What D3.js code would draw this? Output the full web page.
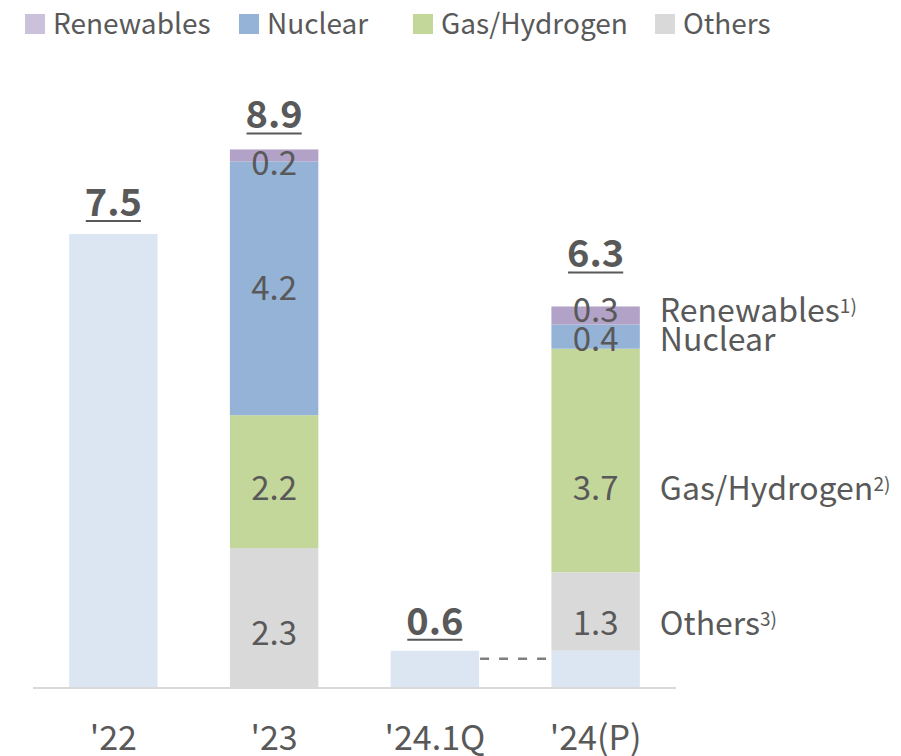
<!DOCTYPE html>
<html>
<head>
<meta charset="utf-8">
<script src="https://cdn.jsdelivr.net/npm/d3@7/dist/d3.min.js"></script>
<style>
  html, body { margin: 0; padding: 0; background: #fff; }
  svg { display: block; }
  text { font-family: "Noto Sans CJK KR", "Noto Sans", sans-serif; fill: #595959; }
</style>
</head>
<body>
<svg id="chart" width="901" height="756"></svg>
<script>
// ---- data ----
const categories = ["'22", "'23", "'24.1Q", "'24(P)"];
const baseValues = [7.5, 0, 0.6, 0.6];
const others = [0, 2.3, 0, 1.3];
const gasHydrogen = [0, 2.2, 0, 3.7];
const nuclear = [0, 4.2, 0, 0.4];
const renewables = [0, 0.2, 0, 0.3];
const totals = [7.5, 8.9, 0.6, 6.3];
const seriesNames = ["Base", "Others", "Gas/Hydrogen", "Nuclear", "Renewables"];
const legendNames = ["Renewables", "Nuclear", "Gas/Hydrogen", "Others"];
const sideLabels = [
  { series: "Renewables", text: "Renewables", sup: "1)" },
  { series: "Nuclear", text: "Nuclear", sup: "" },
  { series: "Gas/Hydrogen", text: "Gas/Hydrogen", sup: "2)" },
  { series: "Others", text: "Others", sup: "3)" }
];

// ---- styles ----
const colors = {
  "Base": "#dce6f2",
  "Others": "#d9d9d9",
  "Gas/Hydrogen": "#c4d79b",
  "Nuclear": "#95b3d7",
  "Renewables": "#b3a2c7"
};
const legendColors = {
  "Renewables": "#ccc1da",
  "Nuclear": "#95b3d7",
  "Gas/Hydrogen": "#c4d79b",
  "Others": "#d9d9d9"
};
// label baseline offsets (px) relative to segment centre
const segLabelOffset = {
  "'23|Renewables": 20, "'23|Nuclear": 12, "'23|Gas/Hydrogen": 18, "'23|Others": 27,
  "'24(P)|Renewables": 6, "'24(P)|Nuclear": 14, "'24(P)|Gas/Hydrogen": 39, "'24(P)|Others": 23
};
const totalOffset = { "'22": 18, "'23": 21, "'24.1Q": 16, "'24(P)": 39 };

const svg = d3.select("#chart");

const x = d3.scaleBand()
  .domain(categories)
  .range([33, 676])
  .paddingInner(0.45)
  .paddingOuter(0.225);

const y = d3.scaleLinear().domain([0, 10]).range([687, 83]);

// stack
const rows = categories.map((c, i) => ({
  cat: c,
  "Base": baseValues[i],
  "Others": others[i],
  "Gas/Hydrogen": gasHydrogen[i],
  "Nuclear": nuclear[i],
  "Renewables": renewables[i]
}));
const stacked = d3.stack().keys(seriesNames)(rows);

// bars
const g = svg.append("g");
stacked.forEach(layer => {
  g.selectAll(null)
    .data(layer.filter(d => d[1] - d[0] > 0))
    .enter().append("rect")
    .attr("x", d => x(d.data.cat))
    .attr("width", x.bandwidth())
    .attr("y", d => y(d[1]))
    .attr("height", d => y(d[0]) - y(d[1]))
    .attr("fill", colors[layer.key]);
});

// axis line
svg.append("line")
  .attr("x1", 33).attr("x2", 676)
  .attr("y1", y(0) + 1).attr("y2", y(0) + 1)
  .attr("stroke", "#d9d9d9").attr("stroke-width", 2);

// dashed connector
svg.append("line")
  .attr("x1", x("'24.1Q") + x.bandwidth() + 1)
  .attr("x2", x("'24(P)") - 1)
  .attr("y1", y(baseValues[2]) + 8).attr("y2", y(baseValues[2]) + 8)
  .attr("stroke", "#7f7f7f").attr("stroke-width", 2.5)
  .attr("stroke-dasharray", "9,10");

// segment labels
const segLabelY = {};
stacked.forEach(layer => {
  if (layer.key === "Base") return;
  layer.forEach(d => {
    const v = d[1] - d[0];
    if (v <= 0) return;
    const key = d.data.cat + "|" + layer.key;
    const cy = (y(d[0]) + y(d[1])) / 2 + (segLabelOffset[key] ?? 12);
    segLabelY[key] = cy;
    svg.append("text")
      .attr("x", x(d.data.cat) + x.bandwidth() / 2)
      .attr("y", cy)
      .attr("text-anchor", "middle")
      .attr("font-size", 33)
      .text(d3.format(".1f")(v));
  });
});

// totals (bold, underlined)
categories.forEach((c, i) => {
  const ty = y(totals[i]) - totalOffset[c];
  const t = svg.append("text")
    .attr("x", x(c) + x.bandwidth() / 2)
    .attr("y", ty)
    .attr("text-anchor", "middle")
    .attr("font-size", 38)
    .attr("font-weight", "bold")
    .text(d3.format(".1f")(totals[i]));
  const bb = t.node().getBBox();
  svg.append("line")
    .attr("x1", bb.x + 1).attr("x2", bb.x + bb.width - 1)
    .attr("y1", ty + 5).attr("y2", ty + 5)
    .attr("stroke", "#595959").attr("stroke-width", 2);
});

// right-side series labels
const lastCat = categories[categories.length - 1];
const xr = x(lastCat) + x.bandwidth() + 20;
sideLabels.forEach(s => {
  const t = svg.append("text")
    .attr("x", xr)
    .attr("y", segLabelY[lastCat + "|" + s.series])
    .attr("font-size", 32);
  t.append("tspan").text(s.text);
  if (s.sup) {
    t.append("tspan").attr("font-size", 19).attr("dy", -9).text(s.sup);
  }
});

// x labels
categories.forEach(c => {
  svg.append("text")
    .attr("x", x(c) + x.bandwidth() / 2)
    .attr("y", 750)
    .attr("text-anchor", "middle")
    .attr("font-size", 34)
    .text(c);
});

// legend
const legendX = [25, 239, 413, 655];
legendNames.forEach((n, i) => {
  svg.append("rect")
    .attr("x", legendX[i]).attr("y", 14)
    .attr("width", 20).attr("height", 20)
    .attr("fill", legendColors[n]);
  svg.append("text")
    .attr("x", legendX[i] + 28).attr("y", 34)
    .attr("font-size", 28)
    .text(n);
});
</script>
</body>
</html>
